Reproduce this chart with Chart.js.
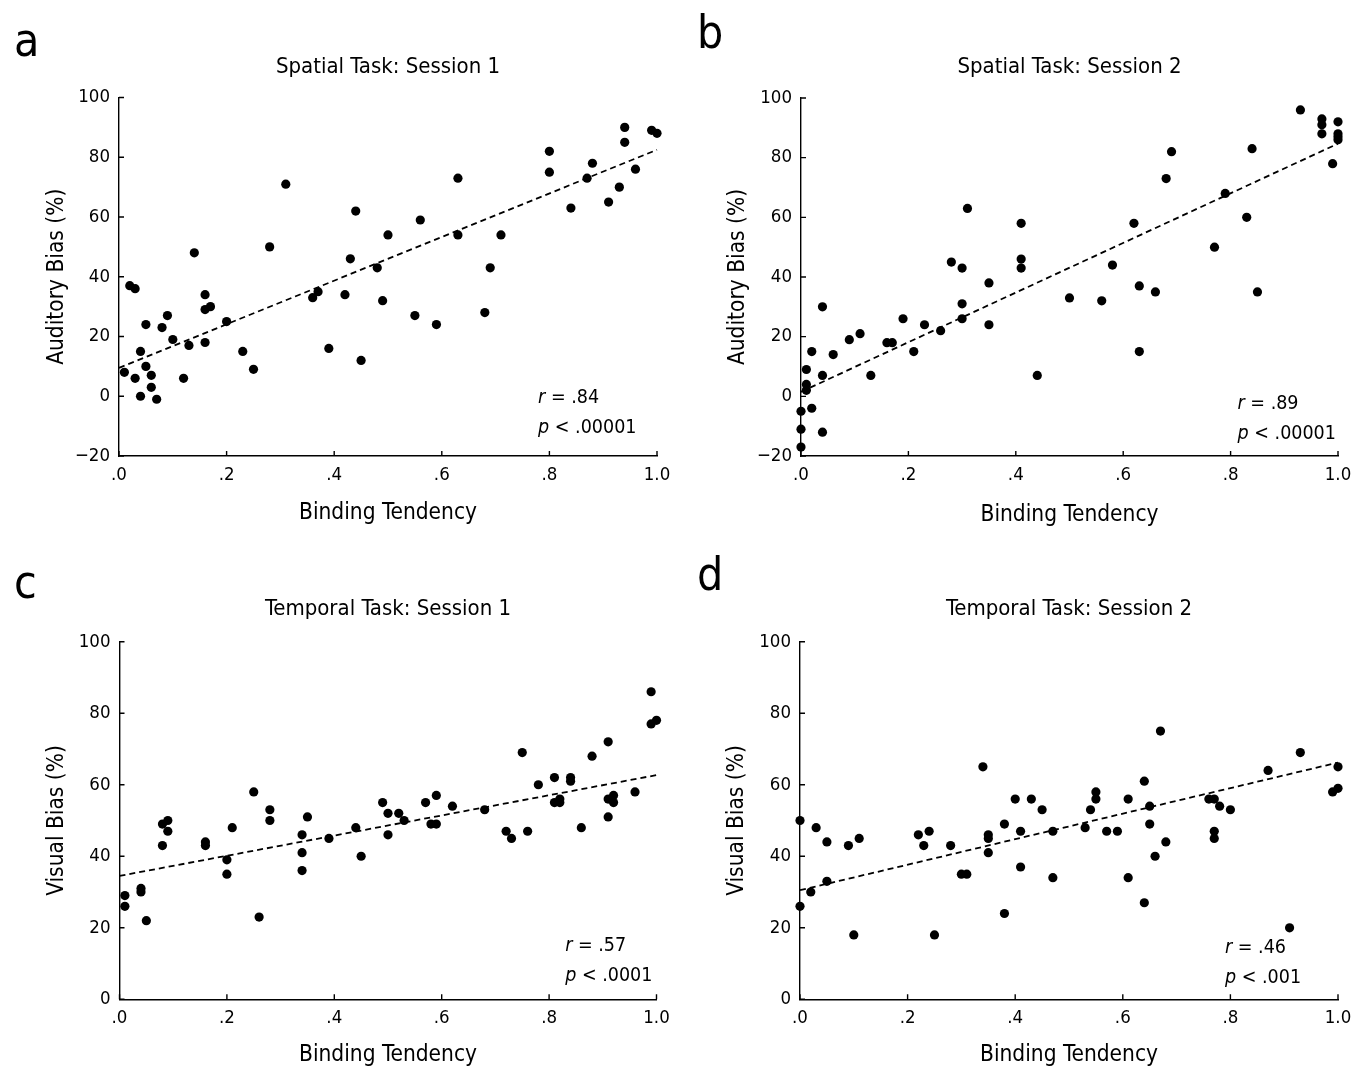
<!DOCTYPE html>
<html>
<head>
<meta charset="utf-8">
<title>Binding tendency vs bias</title>
<script src="https://cdn.jsdelivr.net/npm/chart.js@4.4.0/dist/chart.umd.min.js"></script>
<style>
  html, body { margin: 0; padding: 0; background: #fff; }
  #wrap { position: relative; width: 1366px; height: 1070px; }
  #wrap canvas { position: absolute; }
</style>
</head>
<body>
<div id="wrap">
  <canvas id="chartA" style="left:0;top:0" width="683" height="540"></canvas>
  <canvas id="chartB" style="left:683px;top:0" width="683" height="540"></canvas>
  <canvas id="chartC" style="left:0;top:540px" width="683" height="530"></canvas>
  <canvas id="chartD" style="left:683px;top:540px" width="683" height="530"></canvas>
</div>
<script>
// ---- data ----
const fitX = [0, 1];

// a: Spatial task, session 1
const spatial1X = [0.01, 0.02, 0.03, 0.03, 0.04, 0.04, 0.05, 0.05, 0.06, 0.06,
  0.07, 0.08, 0.09, 0.10, 0.12, 0.13, 0.14, 0.16, 0.16, 0.16,
  0.17, 0.20, 0.23, 0.25, 0.28, 0.31, 0.36, 0.37, 0.39, 0.42,
  0.43, 0.44, 0.45, 0.48, 0.49, 0.50, 0.55, 0.56, 0.59, 0.63,
  0.63, 0.68, 0.69, 0.71, 0.80, 0.80, 0.84, 0.87, 0.88, 0.91,
  0.93, 0.94, 0.94, 0.96, 0.99, 1.00];
const spatial1Y = [8, 37, 36, 6, 15, 0, 24, 10, 7, 3,
  -1, 23, 27, 19, 6, 17, 48, 34, 29, 18,
  30, 25, 15, 9, 50, 71, 33, 35, 16, 34,
  46, 62, 12, 43, 32, 54, 27, 59, 24, 73,
  54, 28, 43, 54, 82, 75, 63, 73, 78, 65,
  70, 90, 85, 76, 89, 88];
const spatial1Fit = [9.5, 82.5];

// b: Spatial task, session 2
const spatial2X = [0, 0, 0, 0.01, 0.01, 0.01, 0.02, 0.02, 0.04, 0.04,
  0.04, 0.06, 0.09, 0.11, 0.13, 0.16, 0.17, 0.19, 0.21, 0.23,
  0.26, 0.28, 0.30, 0.30, 0.30, 0.31, 0.35, 0.35, 0.41, 0.41,
  0.41, 0.44, 0.50, 0.56, 0.58, 0.62, 0.63, 0.63, 0.66, 0.68,
  0.69, 0.77, 0.79, 0.83, 0.84, 0.85, 0.93, 0.97, 0.97, 0.97,
  0.99, 1.00, 1.00, 1.00, 1.00];
const spatial2Y = [-17, -11, -5, 2, 4, 9, -4, 15, -12, 7,
  30, 14, 19, 21, 7, 18, 18, 26, 15, 24,
  22, 45, 43, 31, 26, 63, 38, 24, 58, 46,
  43, 7, 33, 32, 44, 58, 37, 15, 35, 73,
  82, 50, 68, 60, 83, 35, 96, 93, 91, 88,
  78, 92, 88, 87, 86];
const spatial2Fit = [1.5, 84.7];

// c: Temporal task, session 1
const temporal1X = [0.01, 0.01, 0.04, 0.04, 0.05, 0.08, 0.08, 0.09, 0.09, 0.16,
  0.16, 0.20, 0.20, 0.21, 0.25, 0.26, 0.28, 0.28, 0.34, 0.34,
  0.34, 0.35, 0.39, 0.44, 0.45, 0.49, 0.50, 0.50, 0.52, 0.53,
  0.57, 0.58, 0.59, 0.59, 0.62, 0.68, 0.72, 0.73, 0.75, 0.76,
  0.78, 0.81, 0.81, 0.82, 0.82, 0.84, 0.84, 0.86, 0.88, 0.91,
  0.91, 0.91, 0.92, 0.92, 0.96, 0.99, 0.99, 1.00];
const temporal1Y = [29, 26, 31, 30, 22, 49, 43, 50, 47, 44,
  43, 39, 35, 48, 58, 23, 53, 50, 46, 41,
  36, 51, 45, 48, 40, 55, 52, 46, 52, 50,
  55, 49, 57, 49, 54, 53, 47, 45, 69, 47,
  60, 62, 55, 56, 55, 62, 61, 48, 68, 72,
  51, 56, 57, 55, 58, 86, 77, 78];
const temporal1Fit = [34.5, 62.7];

// d: Temporal task, session 2
const temporal2X = [0, 0, 0.02, 0.03, 0.05, 0.05, 0.09, 0.10, 0.11, 0.22,
  0.23, 0.24, 0.25, 0.28, 0.30, 0.31, 0.34, 0.35, 0.35, 0.35,
  0.38, 0.38, 0.40, 0.41, 0.41, 0.43, 0.45, 0.47, 0.47, 0.53,
  0.54, 0.55, 0.55, 0.57, 0.59, 0.61, 0.61, 0.64, 0.64, 0.65,
  0.65, 0.66, 0.67, 0.68, 0.76, 0.77, 0.77, 0.77, 0.78, 0.80,
  0.87, 0.91, 0.93, 0.99, 1.00, 1.00];
const temporal2Y = [50, 26, 30, 48, 44, 33, 43, 18, 45, 46,
  43, 47, 18, 43, 35, 35, 65, 46, 45, 41,
  49, 24, 56, 47, 37, 56, 53, 47, 34, 48,
  53, 58, 56, 47, 47, 56, 34, 61, 27, 54,
  49, 40, 75, 44, 56, 56, 47, 45, 54, 53,
  64, 20, 69, 58, 59, 65];
const temporal2Fit = [30.5, 66.2];

// ---- look ----
const FONT = '"Liberation Sans Narrow", "DejaVu Sans Condensed", "Liberation Sans", sans-serif';
const SIZE = { letter: 46, title: 22, tick: 18.5, axis: 22.5, stat: 19.5 };

// draws inward ticks, panel letter, title and the r / p note
const panelDecor = {
  id: "panelDecor",
  afterDraw(chart, args, opts) {
    const ctx = chart.ctx;
    const xs = chart.scales.x, ys = chart.scales.y;
    const area = chart.chartArea;
    ctx.save();
    ctx.strokeStyle = "#000";
    ctx.lineWidth = 1.4;
    ctx.beginPath();
    xs.ticks.forEach(t => {
      const px = xs.getPixelForValue(t.value);
      ctx.moveTo(px, area.bottom);
      ctx.lineTo(px, area.bottom - 5);
    });
    ys.ticks.forEach(t => {
      const py = ys.getPixelForValue(t.value);
      ctx.moveTo(area.left, py);
      ctx.lineTo(area.left + 5, py);
    });
    ctx.stroke();

    ctx.fillStyle = "#000";
    ctx.textBaseline = "alphabetic";
    ctx.textAlign = "left";
    ctx.font = SIZE.letter + "px " + FONT;
    ctx.fillText(opts.letter, 14, opts.letterY);

    ctx.textAlign = "center";
    ctx.textBaseline = "middle";
    ctx.font = SIZE.title + "px " + FONT;
    ctx.fillText(opts.title, (area.left + area.right) / 2, opts.titleY);

    // r and p, italic letter then the rest
    ctx.textAlign = "left";
    const sx = xs.getPixelForValue(opts.statX);
    [["r", " = " + opts.r, opts.statY[0]], ["p", " < " + opts.p, opts.statY[1]]].forEach(s => {
      const sy = ys.getPixelForValue(s[2]);
      ctx.font = "italic " + SIZE.stat + "px " + FONT;
      ctx.fillText(s[0], sx, sy);
      const w = ctx.measureText(s[0]).width;
      ctx.font = SIZE.stat + "px " + FONT;
      ctx.fillText(s[1], sx + w, sy);
    });
    ctx.restore();
  }
};

function makeChart(id, p) {
  const canvas = document.getElementById(id);
  const W = canvas.width, H = canvas.height;
  const points = p.xs.map((x, i) => ({ x: x, y: p.ys[i] }));
  const fitLine = fitX.map((x, i) => ({ x: x, y: p.fit[i] }));
  const LH = SIZE.axis * 1.2;

  return new Chart(canvas, {
    type: "scatter",
    data: {
      datasets: [
        {
          data: points,
          backgroundColor: "#000",
          borderWidth: 0,
          pointRadius: 4.6,
          pointHoverRadius: 4.6,
          clip: false,
        },
        {
          data: fitLine,
          showLine: true,
          borderColor: "#000",
          borderWidth: 1.8,
          borderDash: [6, 4],
          pointRadius: 0,
          fill: false,
          clip: false,
        },
      ],
    },
    options: {
      responsive: false,
      animation: false,
      events: [],
      layout: { padding: { left: 0, top: p.area.top, right: W - p.area.right, bottom: 0 } },
      plugins: {
        legend: { display: false },
        tooltip: { enabled: false },
        panelDecor: p.decor,
      },
      scales: {
        x: {
          type: "linear",
          min: 0,
          max: 1,
          grid: { display: false, drawTicks: false },
          border: { color: "#000", width: 1.4 },
          ticks: {
            stepSize: 0.2,
            padding: 8,
            color: "#000",
            font: { family: FONT, size: SIZE.tick },
            callback: v => (v === 1 ? "1.0" : v.toFixed(1).replace(/^0/, "")),
          },
          title: {
            display: true,
            text: "Binding Tendency",
            color: "#000",
            font: { family: FONT, size: SIZE.axis },
            padding: { top: 0, bottom: p.xTitleCenter - LH / 2 },
          },
          afterFit: s => { s.height = H - p.area.bottom; },
        },
        y: {
          min: p.yMin,
          max: 100,
          grid: { display: false, drawTicks: false },
          border: { color: "#000", width: 1.4 },
          ticks: {
            stepSize: 20,
            padding: 9,
            color: "#000",
            font: { family: FONT, size: SIZE.tick },
            callback: v => (v < 0 ? "\u2212" + Math.abs(v) : String(v)),
          },
          title: {
            display: true,
            text: p.yTitle,
            color: "#000",
            font: { family: FONT, size: SIZE.axis },
            padding: { top: p.yTitleCenter - LH / 2, bottom: 0 },
          },
          afterFit: s => { s.width = p.area.left; },
        },
      },
    },
    plugins: [panelDecor],
  });
}

makeChart("chartA", {
  xs: spatial1X, ys: spatial1Y, fit: spatial1Fit, yMin: -20,
  yTitle: "Auditory Bias (%)",
  area: { left: 119, top: 97.5, right: 657, bottom: 456 },
  xTitleCenter: 27, yTitleCenter: 57,
  decor: { letter: "a", letterY: 56, title: "Spatial Task: Session 1", titleY: 67,
    r: ".84", p: ".00001", statX: 0.779, statY: [-0.5, -10.5] },
});

makeChart("chartB", {
  xs: spatial2X, ys: spatial2Y, fit: spatial2Fit, yMin: -20,
  yTitle: "Auditory Bias (%)",
  area: { left: 118, top: 98, right: 655, bottom: 456 },
  xTitleCenter: 25, yTitleCenter: 55,
  decor: { letter: "b", letterY: 48, title: "Spatial Task: Session 2", titleY: 67,
    r: ".89", p: ".00001", statX: 0.813, statY: [-2.7, -12.7] },
});

makeChart("chartC", {
  xs: temporal1X, ys: temporal1Y, fit: temporal1Fit, yMin: 0,
  yTitle: "Visual Bias (%)",
  area: { left: 119.5, top: 101.7, right: 656.5, bottom: 459.3 },
  xTitleCenter: 15, yTitleCenter: 57,
  decor: { letter: "c", letterY: 58, title: "Temporal Task: Session 1", titleY: 69,
    r: ".57", p: ".0001", statX: 0.83, statY: [14.8, 6.4] },
});

makeChart("chartD", {
  xs: temporal2X, ys: temporal2Y, fit: temporal2Fit, yMin: 0,
  yTitle: "Visual Bias (%)",
  area: { left: 117, top: 101.7, right: 655, bottom: 459.3 },
  xTitleCenter: 15, yTitleCenter: 54,
  decor: { letter: "d", letterY: 50, title: "Temporal Task: Session 2", titleY: 69,
    r: ".46", p: ".001", statX: 0.79, statY: [14.5, 6.1] },
});
</script>
</body>
</html>
